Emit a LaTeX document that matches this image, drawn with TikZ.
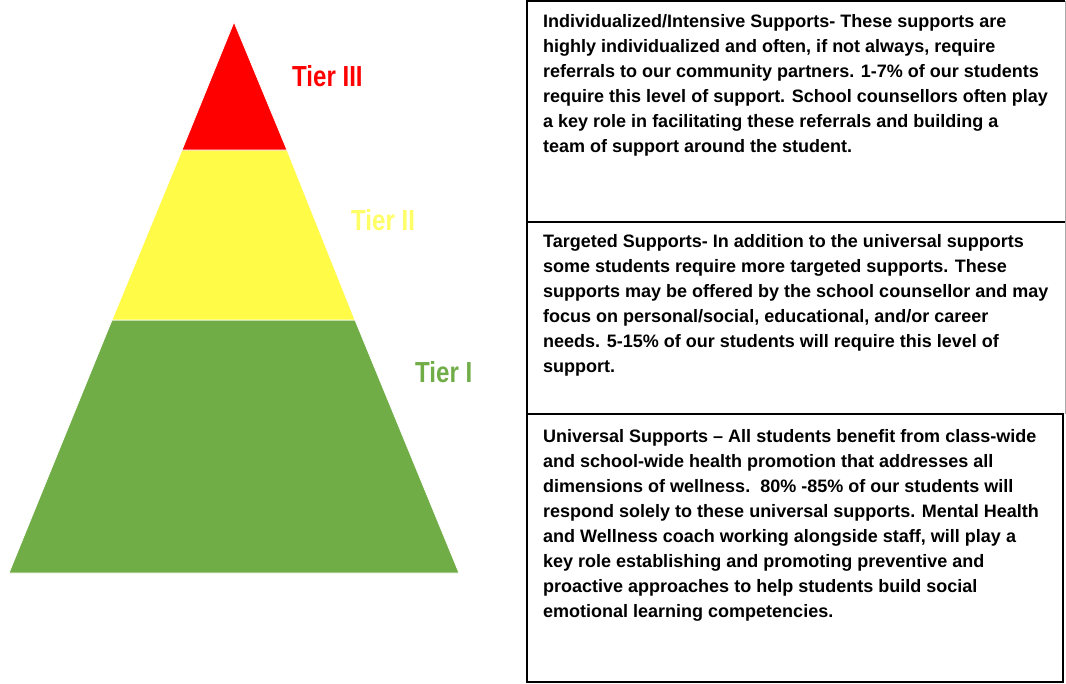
\documentclass[tikz,border=0pt]{standalone}
\usepackage{fontspec}
\setmainfont{Liberation Sans}
\definecolor{tred}{HTML}{FF0000}
\definecolor{tyellow}{HTML}{FFFB47}
\definecolor{tgreen}{HTML}{70AD47}
\definecolor{tlabelyellow}{HTML}{FFFF66}
\begin{document}
\begin{tikzpicture}[x=1pt,y=-1pt,
  band/.style={draw=white,line width=0.8pt},
  tierlabel/.style={anchor=base west,inner sep=0pt,font=\fontsize{29}{29}\selectfont\bfseries},
  boxtext/.style={anchor=north west,inner sep=0pt,align=left,font=\fontsize{18}{25}\selectfont\bfseries},
  boxframe/.style={draw=black,line width=1.8pt},
  edgeframe/.style={draw=black!35,line width=1pt}]
\useasboundingbox (0,0) rectangle (1066,683);
\fill[white] (0,0) rectangle (1066,683);
% pyramid
\coordinate (apex) at (234,22);
\coordinate (rl) at (182,150); \coordinate (rr) at (287,150);
\coordinate (yl) at (112,320); \coordinate (yr) at (355,320);
\coordinate (gl) at (9,573);   \coordinate (gr) at (459,573);
\filldraw[band,fill=tgreen] (yl) -- (yr) -- (gr) -- (gl) -- cycle;
\filldraw[band,fill=tyellow] (rl) -- (rr) -- (yr) -- (yl) -- cycle;
\filldraw[band,fill=tred] (apex) -- (rr) -- (rl) -- cycle;
% tier labels
\node[tierlabel,text=tred] (t3) at (292,86) {\scalebox{0.83}[1]{Tier III}};
\node[tierlabel,text=tlabelyellow] (t2) at (351,230) {\scalebox{0.83}[1]{Tier II}};
\node[tierlabel,text=tgreen] (t1) at (415,382) {\scalebox{0.83}[1]{Tier I}};
% frames
\draw[edgeframe] (1065,1) -- (1065,414);
\draw[boxframe] (1065,1) -- (527,1) -- (527,682) -- (1063,682) -- (1063,414);
\draw[boxframe] (527,222) -- (1065,222);
\draw[boxframe] (527,414) -- (1064,414);
% texts
\node[boxtext] (b1) at (543,14) {Individualized/Intensive Supports- These supports are\\
highly individualized and often, if not always, require\\
referrals to our community partners. 1-7\% of our students\\
require this level of support. School counsellors often play\\
a key role in facilitating these referrals and building a\\
team of support around the student.};
\node[boxtext] (b2) at (543,234) {Targeted Supports- In addition to the universal supports\\
some students require more targeted supports. These\\
supports may be offered by the school counsellor and may\\
focus on personal/social, educational, and/or career\\
needs. 5-15\% of our students will require this level of\\
support.};
\node[boxtext] (b3) at (543,429) {Universal Supports – All students benefit from class-wide\\
and school-wide health promotion that addresses all\\
dimensions of wellness.\ \ 80\% -85\% of our students will\\
respond solely to these universal supports. Mental Health\\
and Wellness coach working alongside staff, will play a\\
key role establishing and promoting preventive and\\
proactive approaches to help students build social\\
emotional learning competencies.};
\end{tikzpicture}
\end{document}
